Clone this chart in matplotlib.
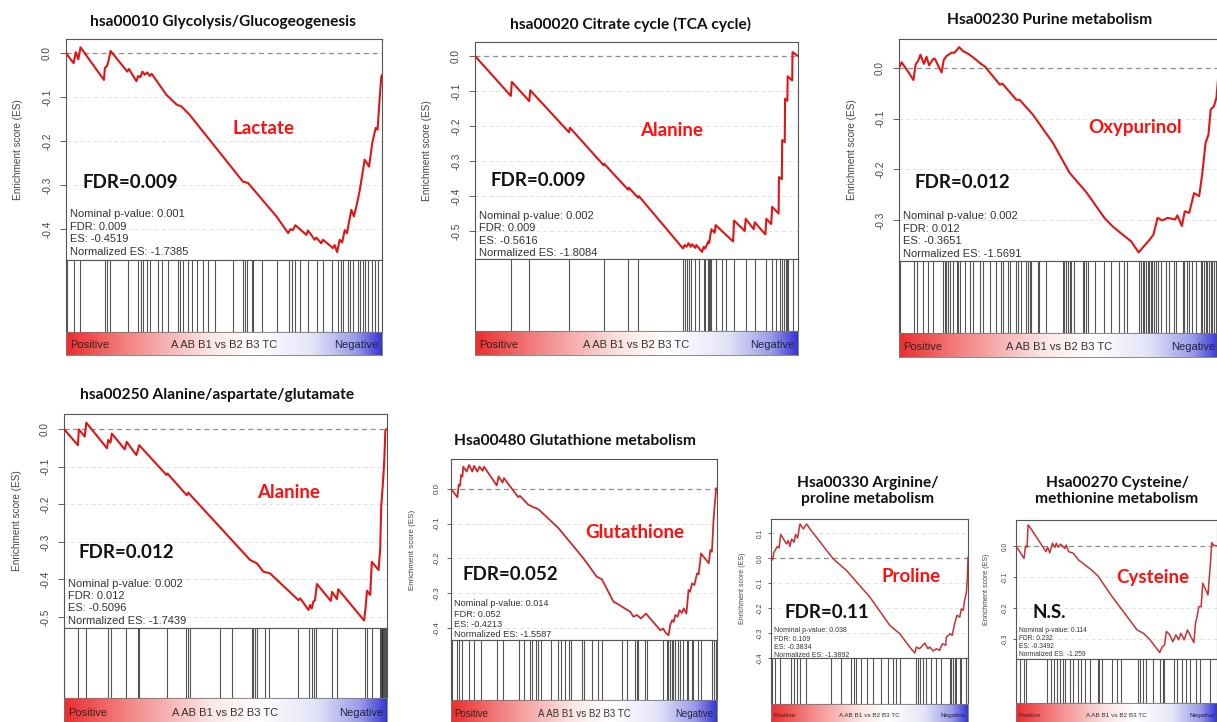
import matplotlib
matplotlib.use("Agg")
import matplotlib.pyplot as plt
import numpy as np
from matplotlib.colors import LinearSegmentedColormap

# ------------------------------------------------------------------ data
p1_title = "hsa00010 Glycolysis/Glucogeogenesis"
p1_metabolite = "Lactate"
p1_fdr_label = "FDR=0.009"
p1_stats = ["Nominal p-value: 0.001", "FDR: 0.009", "ES: -0.4519", "Normalized ES: -1.7385"]
p1_ticks = [0.0, -0.1, -0.2, -0.3, -0.4]
p1_tick_labels = ["0.0", "-0.1", "-0.2", "-0.3", "-0.4"]
p1_rank = [0, 2.4, 3.1, 3.9, 4.6, 12.0, 12.3, 13.0, 13.4, 14.1, 19.4, 19.9, 22.3, 22.8, 23.5,
           24.2, 24.9, 25.7, 26.5, 27.1, 31.8, 35.0, 36.5, 39.1, 56.0, 57.6, 66.6, 70.3, 71.0,
           71.8, 72.6, 76.1, 76.6, 78.7, 79.2, 80.8, 81.3, 84.5, 85.0, 85.8, 86.6, 87.4, 88.2,
           88.9, 90.3, 91.1, 91.9, 92.9, 94.0, 94.5, 95.9, 96.9, 98.0, 98.6, 99.3, 99.8, 100]
p1_es = [0, -0.023, 0.002, -0.014, 0.013, -0.061, -0.034, -0.029, -0.019, 0.005, -0.042, -0.036,
         -0.064, -0.052, -0.055, -0.042, -0.049, -0.044, -0.052, -0.047, -0.095, -0.117, -0.121,
         -0.140, -0.292, -0.295, -0.371, -0.409, -0.400, -0.402, -0.391, -0.413, -0.403, -0.424,
         -0.419, -0.432, -0.424, -0.443, -0.436, -0.452, -0.424, -0.430, -0.402, -0.409, -0.356,
         -0.371, -0.348, -0.314, -0.265, -0.242, -0.258, -0.205, -0.170, -0.174, -0.098, -0.053,
         -0.050]
p1_hits = [0.2, 2.5, 4.4, 12.3, 13.1, 13.9, 19.7, 22.9, 23.6, 24.5, 25.7, 26.6, 29.2, 30.3, 32.4,
           35.5, 36.1, 36.9, 38.7, 39.8, 41.5, 43.5, 45.0, 47.2, 52.9, 55.9, 56.6, 57.2, 58.8,
           59.3, 61.9, 66.7, 70.7, 71.4, 72.5, 74.1, 76.7, 79.3, 81.4, 84.1, 86.2, 86.9, 87.8,
           89.3, 89.9, 90.9, 92.5, 93.0, 93.9, 94.6, 95.7, 96.7, 97.8, 98.8, 99.9]

p2_title = "hsa00020 Citrate cycle (TCA cycle)"
p2_metabolite = "Alanine"
p2_fdr_label = "FDR=0.009"
p2_stats = ["Nominal p-value: 0.002", "FDR: 0.009", "ES: -0.5616", "Normalized ES: -1.8084"]
p2_ticks = [0.0, -0.1, -0.2, -0.3, -0.4, -0.5]
p2_tick_labels = ["0.0", "-0.1", "-0.2", "-0.3", "-0.4", "-0.5"]
p2_rank = [0, 11.1, 11.4, 16.8, 17.1, 29.1, 29.4, 39.8, 40.0, 47.4, 47.6, 50.5, 50.7, 64.4, 64.9,
           65.5, 66.1, 66.8, 67.2, 68.2, 68.5, 70.3, 70.8, 71.3, 72.2, 72.5, 72.9, 73.2, 74.2,
           74.5, 79.9, 80.2, 83.5, 83.8, 86.3, 86.6, 89.9, 90.2, 91.7, 92.0, 94.0, 94.1, 95.0,
           95.1, 95.9, 96.0, 96.7, 96.8, 98.2, 98.3, 100]
p2_es = [0, -0.114, -0.074, -0.129, -0.098, -0.218, -0.205, -0.312, -0.308, -0.382, -0.376,
         -0.405, -0.400, -0.550, -0.540, -0.545, -0.535, -0.545, -0.538, -0.548, -0.540, -0.560,
         -0.545, -0.550, -0.530, -0.535, -0.510, -0.495, -0.505, -0.483, -0.530, -0.470, -0.500,
         -0.465, -0.495, -0.475, -0.510, -0.465, -0.480, -0.431, -0.450, -0.346, -0.352, -0.240,
         -0.246, -0.122, -0.128, -0.058, -0.070, 0.011, 0.0]
p2_hits = [11.1, 16.8, 29.1, 39.8, 47.4, 50.5, 64.4, 64.9, 65.5, 66.1, 66.8, 68.2, 69.3, 70.8,
           71.3, 72.2, 72.5, 72.9, 73.2, 74.5, 76.6, 77.6, 80.2, 83.8, 86.6, 90.2, 92.0, 93.3,
           94.3, 95.2, 95.7, 96.2, 96.6, 96.9, 98.5]

p3_title = "Hsa00230 Purine metabolism"
p3_metabolite = "Oxypurinol"
p3_fdr_label = "FDR=0.012"
p3_stats = ["Nominal p-value: 0.002", "FDR: 0.012", "ES: -0.3651", "Normalized ES: -1.5691"]
p3_ticks = [0.0, -0.1, -0.2, -0.3]
p3_tick_labels = ["0.0", "-0.1", "-0.2", "-0.3"]
p3_rank = [0, 0.8, 2.6, 4.5, 5.2, 6.0, 6.7, 7.8, 8.6, 9.4, 10.7, 11.2, 13.3, 14.0, 14.8, 16.4,
           17.4, 18.8, 20.0, 21.6, 23.7, 25.8, 26.8, 31.5, 32.3, 36.7, 37.7, 41.8, 48.1, 53.3,
           58.5, 64.2, 66.8, 69.9, 72.5, 74.9, 76.1, 78.2, 79.5, 80.8, 82.3, 83.9, 86.3, 87.0,
           88.4, 89.3, 90.7, 92.2, 93.8, 94.8, 95.8, 96.7, 97.4, 98.4, 99.2, 100]
p3_es = [0, 0.011, -0.005, -0.024, 0.007, 0.014, 0.026, 0.008, 0.022, 0.005, 0.018, 0.018,
         -0.009, 0.016, 0.023, 0.030, 0.030, 0.041, 0.033, 0.028, 0.018, 0.007, 0.003, -0.033,
         -0.031, -0.063, -0.063, -0.092, -0.148, -0.207, -0.245, -0.296, -0.313, -0.329, -0.342,
         -0.364, -0.355, -0.340, -0.329, -0.296, -0.301, -0.296, -0.299, -0.291, -0.312, -0.283,
         -0.286, -0.247, -0.253, -0.207, -0.148, -0.132, -0.082, -0.076, -0.059, 0.0]
p3_hits = [0.2, 4.8, 5.5, 7.6, 9.1, 10.7, 13.8, 14.3, 14.8, 15.4, 15.9, 16.9, 18.0, 18.5, 19.0,
           20.6, 22.1, 23.2, 25.2, 26.3, 28.3, 30.4, 32.0, 32.5, 34.1, 34.6, 36.7, 37.2, 38.2,
           39.8, 40.3, 40.8, 41.3, 43.4, 43.9, 46.0, 51.2, 51.7, 52.2, 52.8, 53.3, 53.8, 54.8,
           57.4, 57.9, 58.5, 59.0, 61.1, 64.2, 66.3, 68.8, 70.4, 71.4, 75.1, 75.6, 76.1, 76.6,
           77.2, 77.7, 78.2, 78.7, 79.2, 79.8, 80.3, 80.8, 81.8, 83.4, 84.4, 86.0, 86.5, 88.6,
           89.1, 90.1, 90.6, 91.7, 92.7, 94.3, 94.8, 95.3, 95.8, 96.4, 96.9, 97.4, 97.9, 98.4,
           99.0, 99.5]

p4_title = "hsa00250 Alanine/aspartate/glutamate"
p4_metabolite = "Alanine"
p4_fdr_label = "FDR=0.012"
p4_stats = ["Nominal p-value: 0.002", "FDR: 0.012", "ES: -0.5096", "Normalized ES: -1.7439"]
p4_ticks = [0.0, -0.1, -0.2, -0.3, -0.4, -0.5]
p4_tick_labels = ["0.0", "-0.1", "-0.2", "-0.3", "-0.4", "-0.5"]
p4_rank = [0, 4.3, 4.6, 6.4, 6.9, 13.3, 13.7, 14.4, 14.8, 18.8, 19.4, 22.4, 23.3, 31.7, 32.0,
           38.0, 38.5, 39.2, 57.6, 59.7, 61.7, 63.8, 72.6, 73.1, 75.7, 76.2, 76.7, 77.2, 77.7,
           78.3, 82.6, 83.0, 84.5, 84.9, 92.9, 93.4, 93.8, 94.8, 95.3, 97.4, 97.9, 98.2, 98.8,
           99.2, 99.5, 100]
p4_es = [0, -0.043, -0.001, -0.020, 0.017, -0.051, -0.029, -0.036, -0.012, -0.054, -0.034,
         -0.069, -0.043, -0.122, -0.118, -0.176, -0.169, -0.176, -0.348, -0.357, -0.379, -0.384,
         -0.455, -0.450, -0.481, -0.468, -0.477, -0.459, -0.455, -0.412, -0.457, -0.433, -0.452,
         -0.426, -0.509, -0.473, -0.430, -0.441, -0.353, -0.375, -0.317, -0.207, -0.136, -0.074,
         -0.003, 0.0]
p4_hits = [0.0, 4.4, 6.8, 13.7, 14.7, 19.2, 23.0, 23.3, 32.0, 37.8, 38.3, 39.0, 48.3, 51.9, 58.1,
           58.6, 59.1, 59.6, 62.2, 63.6, 72.5, 76.0, 76.7, 77.4, 78.0, 82.9, 84.4, 93.2, 93.9,
           95.3, 97.8, 98.1, 98.4, 98.6, 98.9, 99.1, 99.4, 99.6, 99.9]

p5_title = "Hsa00480 Glutathione metabolism"
p5_metabolite = "Glutathione"
p5_fdr_label = "FDR=0.052"
p5_stats = ["Nominal p-value: 0.014", "FDR: 0.052", "ES: -0.4213", "Normalized ES: -1.5587"]
p5_ticks = [0.0, -0.1, -0.2, -0.3, -0.4]
p5_tick_labels = ["0.0", "-0.1", "-0.2", "-0.3", "-0.4"]
p5_rank = [0, 2.4, 2.9, 3.4, 3.8, 4.3, 4.6, 5.9, 6.8, 8.0, 8.7, 9.9, 10.7, 11.9, 12.4, 17.2, 17.9,
           19.4, 19.9, 25.3, 25.9, 29.1, 30.1, 31.0, 32.2, 33.2, 40.4, 49.8, 54.8, 56.7, 61.1,
           62.4, 67.4, 68.6, 69.9, 71.4, 73.3, 78.7, 79.7, 80.9, 81.8, 82.4, 83.1, 83.7, 84.3,
           85.2, 85.9, 86.8, 87.5, 88.5, 89.3, 89.9, 90.6, 91.5, 92.5, 93.1, 94.0, 96.9, 97.5,
           98.1, 98.7, 99.1, 99.7, 100]
p5_es = [0, -0.024, 0.012, 0.009, 0.040, 0.035, 0.064, 0.050, 0.069, 0.050, 0.066, 0.050, 0.064,
         0.052, 0.064, 0.010, 0.036, 0.018, 0.031, -0.024, -0.020, -0.046, -0.049, -0.053,
         -0.056, -0.061, -0.113, -0.200, -0.253, -0.260, -0.325, -0.330, -0.354, -0.368, -0.363,
         -0.373, -0.359, -0.407, -0.402, -0.416, -0.421, -0.392, -0.378, -0.383, -0.363, -0.368,
         -0.349, -0.357, -0.344, -0.359, -0.291, -0.296, -0.272, -0.277, -0.243, -0.246, -0.186,
         -0.214, -0.176, -0.181, -0.089, -0.049, 0.002, 0.0]
p5_hits = [0.5, 2.1, 3.0, 4.0, 6.8, 8.8, 11.3, 17.2, 19.7, 25.6, 27.6, 29.7, 30.6, 31.8, 32.8,
           33.8, 37.6, 40.4, 41.4, 42.9, 44.4, 45.1, 49.1, 50.1, 52.9, 55.4, 56.6, 64.2, 66.0,
           69.2, 69.8, 70.4, 72.9, 73.6, 79.8, 81.1, 81.7, 82.3, 83.0, 83.6, 84.2, 85.5, 86.1,
           87.3, 88.6, 89.2, 90.5, 91.1, 93.0, 94.0, 98.0, 99.0, 99.5]

p6_title = "Hsa00330 Arginine/\nproline metabolism"
p6_metabolite = "Proline"
p6_fdr_label = "FDR=0.11"
p6_stats = ["Nominal p-value: 0.038", "FDR: 0.109", "ES: -0.3834", "Normalized ES: -1.3892"]
p6_ticks = [0.1, 0.0, -0.1, -0.2, -0.3, -0.4]
p6_tick_labels = ["0.1", "0.0", "-0.1", "-0.2", "-0.3", "-0.4"]
p6_rank = [0, 0.8, 1.5, 2.5, 3.2, 4.1, 4.9, 7.9, 8.8, 9.6, 10.5, 11.7, 12.5, 13.5, 14.7, 16.4,
           18.1, 19.8, 31.6, 38.3, 50.2, 60.3, 65.4, 70.4, 73.0, 73.8, 75.2, 76.3, 78.0, 79.7,
           80.6, 82.3, 84.0, 85.6, 87.0, 88.7, 89.0, 91.0, 92.0, 93.2, 94.4, 95.8, 96.6, 97.5,
           98.3, 99.2, 99.7, 100]
p6_es = [0, -0.007, 0.024, 0.037, 0.047, 0.041, 0.095, 0.057, 0.071, 0.047, 0.077, 0.064, 0.095,
         0.081, 0.137, 0.117, 0.137, 0.117, -0.003, -0.049, -0.156, -0.269, -0.303, -0.356,
         -0.380, -0.356, -0.363, -0.356, -0.340, -0.363, -0.356, -0.372, -0.363, -0.369, -0.343,
         -0.349, -0.316, -0.303, -0.309, -0.263, -0.229, -0.236, -0.203, -0.209, -0.169, -0.136,
         -0.076, 0.004]
p6_hits = [0.5, 1.9, 4.4, 9.9, 11.7, 13.4, 14.6, 17.9, 30.3, 35.7, 40.4, 42.1, 43.3, 45.7, 48.9,
           51.8, 56.0, 59.4, 61.9, 63.6, 65.3, 73.8, 74.6, 75.5, 77.2, 78.9, 81.4, 83.9, 86.1,
           90.7, 91.5, 92.4, 93.2, 94.0, 95.8, 96.6, 99.2, 99.8]

p7_title = "Hsa00270 Cysteine/\nmethionine metabolism"
p7_metabolite = "Cysteine"
p7_fdr_label = "N.S."
p7_stats = ["Nominal p-value: 0.114", "FDR: 0.232", "ES: -0.3492", "Normalized ES: -1.259"]
p7_ticks = [0.0, -0.1, -0.2, -0.3]
p7_tick_labels = ["0.0", "-0.1", "-0.2", "-0.3"]
p7_rank = [0, 4.0, 4.7, 5.5, 6.0, 6.5, 14.9, 15.7, 16.8, 18.1, 19.4, 20.1, 21.0, 22.2, 24.3,
           25.0, 26.2, 28.6, 31.1, 34.3, 37.5, 40.8, 47.2, 55.3, 60.2, 63.4, 66.7, 71.5, 72.8,
           73.9, 74.8, 76.4, 78.0, 79.6, 80.9, 82.0, 83.7, 85.3, 88.5, 89.3, 90.1, 90.9, 92.1,
           92.9, 95.5, 96.6, 97.4, 98.2, 100]
p7_es = [0, -0.040, 0.0, -0.004, 0.068, 0.065, -0.018, -0.004, -0.022, 0.009, -0.004, 0.009,
         -0.004, 0.006, -0.008, 0.003, -0.018, -0.024, -0.045, -0.061, -0.077, -0.097, -0.158,
         -0.228, -0.271, -0.282, -0.303, -0.344, -0.325, -0.320, -0.276, -0.286, -0.309, -0.287,
         -0.303, -0.282, -0.303, -0.271, -0.312, -0.249, -0.228, -0.196, -0.196, -0.120, -0.158,
         -0.067, 0.011, 0.003, 0.0]
p7_hits = [0.2, 1.8, 4.2, 5.0, 15.5, 17.2, 18.8, 20.4, 22.0, 23.6, 24.4, 26.9, 28.2, 30.9, 32.5,
           34.1, 36.6, 40.6, 41.4, 43.0, 47.9, 50.3, 52.4, 60.5, 61.7, 63.3, 64.9, 68.1, 71.8,
           73.0, 73.8, 78.6, 80.3, 82.7, 84.8, 86.7, 89.6, 91.6, 96.4]

ranking_label = "A AB B1 vs B2 B3 TC"
pos_label = "Positive"
neg_label = "Negative"
ylabel_text = "Enrichment score (ES)"

# ------------------------------------------------------------------ layout (pixels)
W, H = 1217, 722
fig = plt.figure(figsize=(W / 100, H / 100), dpi=100)
fig.patch.set_facecolor("white")

TITLE_FONT = ["Lato", "DejaVu Sans"]
PLAIN_FONT = ["Liberation Sans", "DejaVu Sans"]


def frect(l, t, r, b):
    return [l / W, 1 - b / H, (r - l) / W, (b - t) / H]


def fx(x):
    return x / W


def fy(y):
    return 1 - y / H


panels = [
    dict(title=p1_title, metab=p1_metabolite, fdr=p1_fdr_label, stats=p1_stats, ticks=p1_ticks,
         ticklabels=p1_tick_labels, rank=p1_rank, es=p1_es, hits=p1_hits),
    dict(title=p2_title, metab=p2_metabolite, fdr=p2_fdr_label, stats=p2_stats, ticks=p2_ticks,
         ticklabels=p2_tick_labels, rank=p2_rank, es=p2_es, hits=p2_hits),
    dict(title=p3_title, metab=p3_metabolite, fdr=p3_fdr_label, stats=p3_stats, ticks=p3_ticks,
         ticklabels=p3_tick_labels, rank=p3_rank, es=p3_es, hits=p3_hits),
    dict(title=p4_title, metab=p4_metabolite, fdr=p4_fdr_label, stats=p4_stats, ticks=p4_ticks,
         ticklabels=p4_tick_labels, rank=p4_rank, es=p4_es, hits=p4_hits),
    dict(title=p5_title, metab=p5_metabolite, fdr=p5_fdr_label, stats=p5_stats, ticks=p5_ticks,
         ticklabels=p5_tick_labels, rank=p5_rank, es=p5_es, hits=p5_hits),
    dict(title=p6_title, metab=p6_metabolite, fdr=p6_fdr_label, stats=p6_stats, ticks=p6_ticks,
         ticklabels=p6_tick_labels, rank=p6_rank, es=p6_es, hits=p6_hits),
    dict(title=p7_title, metab=p7_metabolite, fdr=p7_fdr_label, stats=p7_stats, ticks=p7_ticks,
         ticklabels=p7_tick_labels, rank=p7_rank, es=p7_es, hits=p7_hits),
]

layouts = [
    dict(box=(66, 39, 382, 260, 332, 355), ylim=(-0.47, 0.032), title=(223, 22), metab=(264, 128),
         fdr=(82, 182), stats=(70, 214, 12.5), ylab=18, fs_title=11.2, fs_big=13.5, fs_stats=8,
         fs_tick=7.2, fs_ylab=7.2, fs_cbar=8, lw=1.5, color="#e01515", ticklen=4, tickpad=6),
    dict(box=(475, 42, 798, 259, 331, 355), ylim=(-0.58, 0.04), title=(630, 24), metab=(672, 130),
         fdr=(491, 181), stats=(479, 216, 12.3), ylab=427, fs_title=11.2, fs_big=13.5, fs_stats=8,
         fs_tick=7.2, fs_ylab=7.2, fs_cbar=8, lw=1.5, color="#e01515", ticklen=4, tickpad=6),
    dict(box=(899, 39, 1219, 261, 333, 357), ylim=(-0.381, 0.057), title=(1050, 20),
         metab=(1135, 128), fdr=(914, 182), stats=(903, 216, 12.6), ylab=852, fs_title=11.2,
         fs_big=13.5, fs_stats=8, fs_tick=7.2, fs_ylab=7.2, fs_cbar=8, lw=1.5, color="#e01515",
         ticklen=4, tickpad=6),
    dict(box=(64, 414, 387, 628, 698, 724), ylim=(-0.529, 0.04), title=(217, 395),
         metab=(289, 492), fdr=(79, 553), stats=(68, 584, 12.2), ylab=17, fs_title=11.2,
         fs_big=13.5, fs_stats=8, fs_tick=7.2, fs_ylab=7.2, fs_cbar=8, lw=1.5, color="#e01515",
         ticklen=4, tickpad=6),
    dict(box=(451, 459, 717, 640, 700, 724), ylim=(-0.435, 0.086), title=(575, 441),
         metab=(635, 532), fdr=(463, 574), stats=(454, 604, 10.3), ylab=412, fs_title=11.2,
         fs_big=13.5, fs_stats=6.6, fs_tick=5.8, fs_ylab=5.8, fs_cbar=7, lw=1.3,
         color="#cc2a2a", ticklen=3, tickpad=4.5),
    dict(box=(771, 519, 968, 658, 704, 724), ylim=(-0.40, 0.157), title=(868, 491),
         metab=(911, 577), fdr=(785, 612), stats=(774, 631, 8.3), ylab=743, fs_title=11.2,
         fs_big=13.5, fs_stats=5.0, fs_tick=4.8, fs_ylab=5.0, fs_cbar=4.6, lw=1.1,
         color="#c83232", ticklen=2.5, tickpad=3),
    dict(box=(1016, 520, 1217, 659, 703, 724), ylim=(-0.365, 0.084), title=(1117, 491),
         metab=(1153, 577), fdr=(1032, 612), stats=(1019, 631, 8.0), ylab=986, fs_title=11.2,
         fs_big=13.5, fs_stats=4.8, fs_tick=4.8, fs_ylab=5.0, fs_cbar=4.6, lw=1.1,
         color="#c83232", ticklen=2.5, tickpad=3),
]

cmap = LinearSegmentedColormap.from_list(
    "rankbar",
    [(0.0, "#ec2e2e"), (0.2, "#f38686"), (0.45, "#fde4e4"), (0.6, "#ffffff"),
     (0.78, "#e4e4f8"), (0.92, "#9a9ae8"), (1.0, "#3636d4")])
gradient = np.linspace(0, 1, 512)[None, :]


def draw(p, L):
    l, t, r, b, hb, cb = L["box"]
    # running enrichment score
    ax = fig.add_axes(frect(l, t, r, b))
    ax.set_xlim(0, 100)
    ax.set_ylim(*L["ylim"])
    for tk in p["ticks"]:
        if tk == 0:
            ax.axhline(0, color="#8c8c8c", lw=0.9, ls=(0, (4, 3)), zorder=1)
        else:
            ax.axhline(tk, color="#e2e2e2", lw=0.7, ls=(0, (4, 3)), zorder=1)
    ax.plot(p["rank"], p["es"], color=L["color"], lw=L["lw"], zorder=3)
    ax.set_xticks([])
    ax.set_yticks(p["ticks"])
    ax.set_yticklabels(p["ticklabels"], rotation=90, va="center", fontsize=L["fs_tick"],
                       color="#333333", family=PLAIN_FONT)
    ax.tick_params(axis="y", length=L["ticklen"], width=0.6, pad=L["tickpad"], colors="#444444")
    for s in ax.spines.values():
        s.set_color("#555555")
        s.set_linewidth(0.8)

    # hits
    axh = fig.add_axes(frect(l, b, r, hb))
    axh.set_xlim(0, 100)
    axh.set_ylim(0, 1)
    axh.vlines(p["hits"], 0, 1, color="#2a2a2a", lw=0.8, alpha=0.8)
    axh.set_xticks([])
    axh.set_yticks([])
    for s in axh.spines.values():
        s.set_color("#555555")
        s.set_linewidth(0.8)

    # ranking colour bar
    axc = fig.add_axes(frect(l, hb, r, cb))
    axc.imshow(gradient, aspect="auto", cmap=cmap, extent=[0, 100, 0, 1])
    axc.set_xlim(0, 100)
    axc.set_ylim(0, 1)
    axc.set_xticks([])
    axc.set_yticks([])
    for s in axc.spines.values():
        s.set_color("#777777")
        s.set_linewidth(0.6)
    axc.text(1.2, 0.42, pos_label, fontsize=L["fs_cbar"], color="#3a2222", va="center",
             ha="left", family=PLAIN_FONT)
    axc.text(50, 0.42, ranking_label, fontsize=L["fs_cbar"], color="#333333", va="center",
             ha="center", family=PLAIN_FONT)
    axc.text(98.8, 0.42, neg_label, fontsize=L["fs_cbar"], color="#222244", va="center",
             ha="right", family=PLAIN_FONT)

    # texts
    tx, ty = L["title"]
    fig.text(fx(tx), fy(ty), p["title"], ha="center", va="center", fontsize=L["fs_title"],
             fontweight="bold", family=TITLE_FONT, color="#111111", linespacing=1.25)
    mx, my = L["metab"]
    fig.text(fx(mx), fy(my), p["metab"], ha="center", va="center", fontsize=L["fs_big"],
             fontweight="bold", family=TITLE_FONT, color="#ff1010")
    dx, dy = L["fdr"]
    fig.text(fx(dx), fy(dy), p["fdr"], ha="left", va="center", fontsize=L["fs_big"],
             fontweight="bold", family=TITLE_FONT, color="#111111")
    sx, sy, sd = L["stats"]
    for i, line in enumerate(p["stats"]):
        fig.text(fx(sx), fy(sy + i * sd), line, ha="left", va="center", fontsize=L["fs_stats"],
                 color="#333333", family=PLAIN_FONT)
    fig.text(fx(L["ylab"]), fy((t + b) / 2), ylabel_text, rotation=90, ha="center", va="center",
             fontsize=L["fs_ylab"], color="#444444", family=PLAIN_FONT)


for p, L in zip(panels, layouts):
    draw(p, L)

fig.savefig("out.png", dpi=100, facecolor="white")
